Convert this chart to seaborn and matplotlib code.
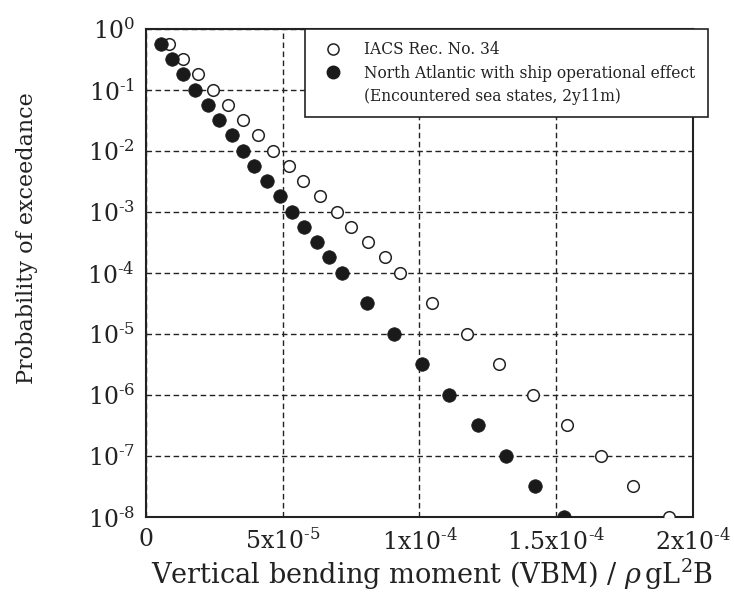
import matplotlib
matplotlib.use("Agg")
import matplotlib.pyplot as plt
from matplotlib.lines import Line2D
import seaborn as sns
import pandas as pd

# Data (VBM / rho g L^2 B, probability of exceedance)
iacs_x = [0.85e-5, 1.34e-5, 1.91e-5, 2.44e-5, 3.01e-5, 3.54e-5, 4.08e-5, 4.65e-5,
          5.24e-5, 5.75e-5, 6.36e-5, 6.97e-5, 7.48e-5, 8.10e-5, 8.74e-5, 9.29e-5,
          10.46e-5, 11.72e-5, 12.90e-5, 14.16e-5, 15.38e-5, 16.64e-5, 17.82e-5, 19.13e-5]
na_x = [0.54e-5, 0.94e-5, 1.36e-5, 1.79e-5, 2.26e-5, 2.67e-5, 3.13e-5, 3.54e-5,
        3.96e-5, 4.41e-5, 4.90e-5, 5.33e-5, 5.78e-5, 6.24e-5, 6.70e-5, 7.18e-5,
        8.09e-5, 9.08e-5, 10.08e-5, 11.09e-5, 12.15e-5, 13.16e-5, 14.22e-5, 15.28e-5]
prob = [5.6e-1, 3.2e-1, 1.8e-1, 1e-1, 5.6e-2, 3.2e-2, 1.8e-2, 1e-2,
        5.6e-3, 3.2e-3, 1.8e-3, 1e-3, 5.6e-4, 3.2e-4, 1.8e-4, 1e-4,
        3.2e-5, 1e-5, 3.2e-6, 1e-6, 3.2e-7, 1e-7, 3.2e-8, 1e-8]

series_labels = ["IACS Rec. No. 34",
                 "North Atlantic with ship operational effect",
                 "(Encountered sea states, 2y11m)"]
x_ticks = [0, 5e-5, 1e-4, 1.5e-4, 2e-4]
x_tick_labels = [r"$0$", r"$5\mathrm{x}10^{\text{-}5}$", r"$1\mathrm{x}10^{\text{-}4}$",
                 r"$1.5\mathrm{x}10^{\text{-}4}$", r"$2\mathrm{x}10^{\text{-}4}$"]
y_ticks = [1e0, 1e-1, 1e-2, 1e-3, 1e-4, 1e-5, 1e-6, 1e-7, 1e-8]
y_tick_labels = [r"$10^{0}$", r"$10^{\text{-}1}$", r"$10^{\text{-}2}$", r"$10^{\text{-}3}$",
                 r"$10^{\text{-}4}$", r"$10^{\text{-}5}$", r"$10^{\text{-}6}$",
                 r"$10^{\text{-}7}$", r"$10^{\text{-}8}$"]

sns.set_theme(style="white")
plt.rcParams["font.family"] = ["DejaVu Serif"]
plt.rcParams["mathtext.fontset"] = "dejavuserif"

df_iacs = pd.DataFrame({"x": iacs_x, "p": prob})
df_na = pd.DataFrame({"x": na_x, "p": prob})

fig = plt.figure(figsize=(7.34, 6.0), dpi=100)
ax = fig.add_axes([0.199, 0.138, 0.745, 0.814])

sns.scatterplot(data=df_iacs, x="x", y="p", ax=ax, marker="o", s=70,
                facecolor="white", edgecolor="#222222", linewidth=1.1, zorder=3)
sns.scatterplot(data=df_na, x="x", y="p", ax=ax, marker="o", s=95,
                color="#1a1a1a", edgecolor="#1a1a1a", linewidth=0.5, zorder=4)

ax.set_yscale("log")
ax.set_xlim(0, 2e-4)
ax.set_ylim(1e-8, 1e0)
ax.set_xticks(x_ticks)
ax.set_xticklabels(x_tick_labels)
ax.set_yticks(y_ticks)
ax.set_yticklabels(y_tick_labels)
ax.minorticks_off()
ax.tick_params(axis="both", which="major", labelsize=17, direction="in",
               length=5, width=1, colors="#222222", pad=8)

ax.grid(True, which="major", color="#222222", linestyle=(0, (4, 2.5)), linewidth=1)
for sp in ax.spines.values():
    sp.set_color("#222222")
    sp.set_linewidth(1.5)

ax.set_xlabel(r"Vertical bending moment (VBM) / $\rho\,\mathrm{gL^2B}$",
              fontsize=19.5, color="#222222")
ax.set_ylabel("Probability of exceedance", fontsize=16, color="#222222")
ax.xaxis.set_label_coords(0.523, -0.082)
ax.yaxis.set_label_coords(-0.197, 0.572)

handles = [
    Line2D([], [], marker="o", linestyle="none", markersize=8,
           markerfacecolor="white", markeredgecolor="#222222", markeredgewidth=1.1),
    Line2D([], [], marker="o", linestyle="none", markersize=9,
           markerfacecolor="#1a1a1a", markeredgecolor="#1a1a1a"),
    Line2D([], [], linestyle="none", marker=None),
]
leg = fig.legend(handles, series_labels, loc="upper left",
                 bbox_to_anchor=(305 / 734, 1 - 29 / 600),
                 bbox_transform=fig.transFigure, borderaxespad=0,
                 fontsize=11.2, frameon=True, fancybox=False, shadow=False,
                 handletextpad=1.0, labelspacing=0.4, borderpad=0.8,
                 handlelength=2.0)
leg.get_frame().set_edgecolor("#222222")
leg.get_frame().set_linewidth(1.2)
leg.get_frame().set_facecolor("white")
leg.get_frame().set_alpha(1)
for t in leg.get_texts():
    t.set_color("#222222")

fig.savefig("out.png", dpi=100)
